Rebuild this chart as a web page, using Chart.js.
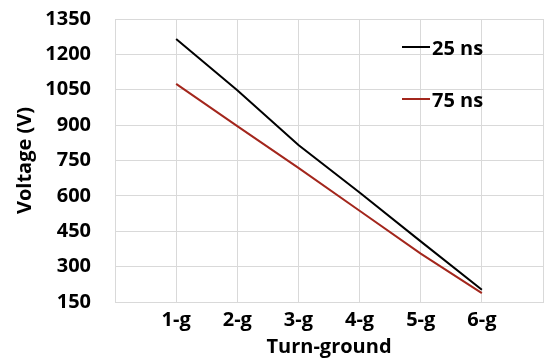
<!DOCTYPE html>
<html>
<head>
<meta charset="utf-8">
<script src="https://cdn.jsdelivr.net/npm/chart.js@4.4.1/dist/chart.umd.min.js"></script>
<style>
  html, body { margin: 0; padding: 0; background: #fff; }
  #wrap { width: 549px; height: 360px; }
</style>
</head>
<body>
<div id="wrap"><canvas id="chart" width="549" height="360"></canvas></div>
<script>
// data (empty slots at both ends give the left/right margin)
const categories = ['', '1-g', '2-g', '3-g', '4-g', '5-g', '6-g', ''];
const ns25 = [null, 1265, 1048, 816, 614, 407, 202, null];
const ns75 = [null, 1075, 896, 719, 537, 355, 188, null];
const seriesNames = ['25 ns', '75 ns'];
const seriesColors = ['#000000', '#a3261c'];

const FONT = "'Open Sans', sans-serif";

// legend drawn inside the plot area, top right
const insideLegend = {
  id: 'insideLegend',
  afterDraw(chart) {
    const ctx = chart.ctx;
    const rows = [
      { lineY: 47, textY: 55 },
      { lineY: 99, textY: 107 }
    ];
    ctx.save();
    ctx.font = "bold 20px " + FONT;
    ctx.textBaseline = 'alphabetic';
    ctx.textAlign = 'left';
    rows.forEach((r, i) => {
      ctx.strokeStyle = seriesColors[i];
      ctx.lineWidth = 2;
      ctx.beginPath();
      ctx.moveTo(402, r.lineY);
      ctx.lineTo(430, r.lineY);
      ctx.stroke();
      ctx.fillStyle = '#000';
      ctx.fillText(seriesNames[i], 432, r.textY);
    });
    ctx.restore();
  }
};

new Chart(document.getElementById('chart'), {
  type: 'line',
  data: {
    labels: categories,
    datasets: [
      { label: seriesNames[0], data: ns25, borderColor: seriesColors[0], borderWidth: 2, pointRadius: 0, tension: 0, spanGaps: false },
      { label: seriesNames[1], data: ns75, borderColor: seriesColors[1], borderWidth: 2, pointRadius: 0, tension: 0, spanGaps: false }
    ]
  },
  options: {
    responsive: false,
    animation: false,
    layout: { padding: { top: 19, right: 0, bottom: 0, left: 0 } },
    plugins: {
      legend: { display: false },
      tooltip: { enabled: false }
    },
    scales: {
      x: {
        offset: false,
        grid: { color: '#d9d9d9', lineWidth: 1, drawTicks: false },
        border: { color: '#d9d9d9' },
        ticks: {
          padding: 6, color: '#000', maxRotation: 0, autoSkip: false,
          font: { family: FONT, size: 20, weight: 'bold' }
        },
        title: {
          display: true, text: 'Turn-ground', color: '#000',
          padding: { top: 0, bottom: 1 },
          font: { family: FONT, size: 20, weight: 'bold' }
        },
        afterFit(s) { s.height = 58; }
      },
      y: {
        min: 150, max: 1350,
        grid: { color: '#d9d9d9', lineWidth: 1, drawTicks: false },
        border: { color: '#d9d9d9' },
        ticks: {
          stepSize: 150, padding: 24, color: '#000', autoSkip: false,
          callback: v => String(v),
          font: { family: FONT, size: 20, weight: 'bold' }
        },
        title: {
          display: true, text: 'Voltage (V)', color: '#000',
          padding: { top: 13, bottom: 0 },
          font: { family: FONT, size: 20, weight: 'bold' }
        },
        afterFit(s) {
          s.width = 115;
          // ticks.padding is otherwise added above the top label too
          s.paddingTop = 0;
          s.paddingBottom = 0;
        }
      }
    }
  },
  plugins: [insideLegend]
});
</script>
</body>
</html>
